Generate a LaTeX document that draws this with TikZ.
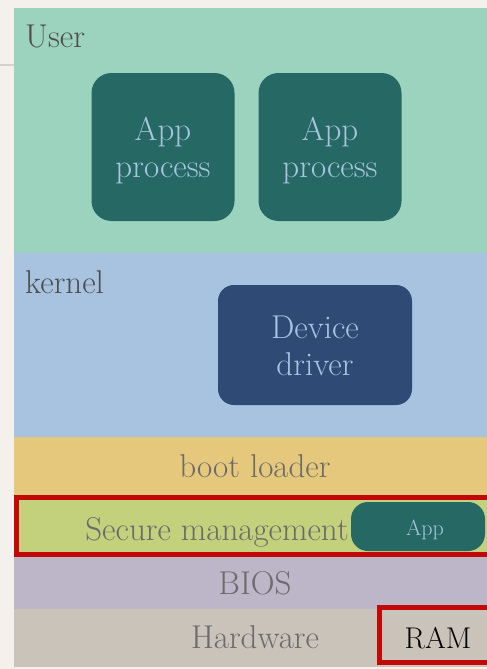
\documentclass[tikz,border=0pt]{standalone}
\usetikzlibrary{positioning}
\definecolor{paper}{HTML}{F4F0EB}
\definecolor{userc}{HTML}{9CD3BE}
\definecolor{kernc}{HTML}{A8C3E0}
\definecolor{bootc}{HTML}{E6C87C}
\definecolor{secc}{HTML}{C3D07C}
\definecolor{biosc}{HTML}{BDB5C8}
\definecolor{hwc}{HTML}{C9C3B9}
\definecolor{appc}{HTML}{266864}
\definecolor{drvc}{HTML}{2F4A74}
\definecolor{boxtxtc}{HTML}{A8C4E0}
\definecolor{labc}{HTML}{6B6B6B}
\definecolor{darklabc}{HTML}{4D4D4D}
\definecolor{redc}{HTML}{C20808}
\tikzset{
  layer/.style={draw=none, inner sep=0pt, minimum width=473pt},
  bigbox/.style={draw=none, inner sep=0pt, rounded corners=20pt},
  layertxt/.style={inner sep=0pt, text=labc, font=\fontsize{33}{38}\selectfont},
  cornertxt/.style={inner sep=0pt, text=darklabc, font=\fontsize{33}{38}\selectfont, anchor=base west},
  boxtxt/.style={inner sep=0pt, text=boxtxtc, font=\fontsize{33}{38}\selectfont, anchor=base},
  redframe/.style={draw=redc, line width=5pt}
}
\begin{document}
\begin{tikzpicture}[x=1pt,y=-1pt]
\useasboundingbox (0,0) rectangle (487,669);
\fill[paper] (0,0) rectangle (487,669);
\draw[gray!35, line width=1.5pt] (0,65) -- (14,65);
% layers
\node[layer, fill=userc, minimum height=245pt] (user) at (250.5,130.5) {};
\node[layer, fill=kernc, minimum height=184pt] (kern) at (250.5,345) {};
\node[layer, fill=bootc, minimum height=58pt] (boot) at (250.5,466) {};
\node[layer, fill=secc, minimum height=62pt] (sec) at (250.5,526) {};
\node[layer, fill=biosc, minimum height=52pt] (bios) at (250.5,583) {};
\node[layer, fill=hwc, minimum height=58pt] (hw) at (250.5,638) {};
% corner labels
\node[cornertxt] (userlab) at (25,48) {User};
\node[cornertxt] (kernlab) at (25,293) {kernel};
% app process boxes
\node[bigbox, fill=appc, minimum width=143pt, minimum height=148pt] (app1) at (163,147) {};
\node[bigbox, fill=appc, minimum width=143pt, minimum height=148pt] (app2) at (330,147) {};
\node[boxtxt] (app1a) at (163,140) {App};
\node[boxtxt] (app1b) at (163,177) {process};
\node[boxtxt] (app2a) at (330,140) {App};
\node[boxtxt] (app2b) at (330,177) {process};
% device driver
\node[bigbox, fill=drvc, minimum width=194pt, minimum height=120pt, rounded corners=16pt] (drv) at (315,345) {};
\node[boxtxt] (drva) at (315,338) {Device};
\node[boxtxt] (drvb) at (315,375) {driver};
% layer texts
\node[layertxt, anchor=base] (boottxt) at (255,477) {boot loader};
\node[layertxt, anchor=base] (sectxt) at (217,540) {Secure management};
\node[layertxt, anchor=base] (biostxt) at (255,594) {BIOS};
\node[layertxt, anchor=base] (hwtxt) at (255,648) {Hardware};
% small app
\node[bigbox, fill=appc, minimum width=134pt, minimum height=49pt, rounded corners=17pt] (sapp) at (418,526.5) {};
\node[boxtxt, font=\fontsize{22}{26}\selectfont] (sapptxt) at (425,535) {App};
% red frames
\draw[redframe] (16.5,497) rectangle (495,554.5);
\draw[redframe] (379.5,607.5) rectangle (495,662.5);
% RAM
\node[inner sep=0pt, anchor=base, text=black, font=\fontsize{30}{34}\selectfont] (ram) at (438,648) {RAM};
\end{tikzpicture}
\end{document}
